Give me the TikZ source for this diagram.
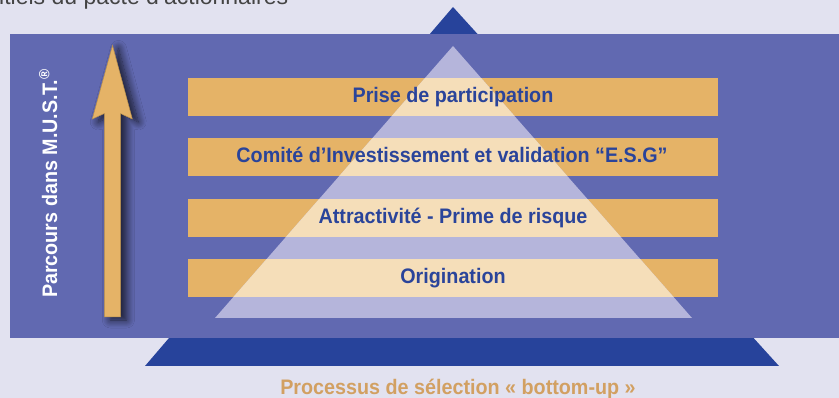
\documentclass[tikz,border=0pt]{standalone}
\usepackage{fontspec}
\setmainfont{Liberation Sans}
\newfontfamily\cond[FakeStretch=0.94]{Liberation Sans}
\usetikzlibrary{shadows.blur}
\definecolor{bgc}{HTML}{E2E2F0}
\definecolor{rectc}{HTML}{6169B1}
\definecolor{darkpyr}{HTML}{27439B}
\definecolor{lightpyr}{HTML}{B5B5DB}
\definecolor{barc}{HTML}{E5B367}
\definecolor{barlight}{HTML}{F5DEB9}
\definecolor{bartext}{HTML}{2A449A}
\definecolor{bottomtext}{HTML}{D2A062}
\definecolor{topgray}{HTML}{444444}
\definecolor{arrowedge}{HTML}{B8904E}
\tikzset{
  bartxt/.style={anchor=base, inner sep=0, text=bartext, font=\cond\bfseries\fontsize{21}{25}\selectfont},
}
\begin{document}
\begin{tikzpicture}[x=1pt,y=-1pt]
\useasboundingbox (0,0) rectangle (839,398);
\fill[bgc] (0,0) rectangle (839,398);
\node[anchor=base west, inner sep=0, text=topgray, font=\fontsize{23}{27}\selectfont] (toptext) at (-1,4.5) {itiels du pacte d’actionnaires};
% dark pyramid behind
\fill[darkpyr] (453,7) -- (779,366) -- (145,366) -- cycle;
% main panel
\fill[rectc] (10,34) rectangle (839,338);
% bars
\fill[barc] (187.5,78) rectangle (718,116);
\fill[barc] (187.5,138) rectangle (718,176);
\fill[barc] (187.5,199) rectangle (718,237);
\fill[barc] (187.5,259) rectangle (718,297);
% light pyramid
\coordinate (apex) at (453,46);
\coordinate (bl) at (215,318);
\coordinate (br) at (692,318);
\fill[lightpyr] (apex) -- (br) -- (bl) -- cycle;
\begin{scope}
  \clip (apex) -- (br) -- (bl) -- cycle;
  \fill[barlight] (187.5,78) rectangle (718,116);
  \fill[barlight] (187.5,138) rectangle (718,176);
  \fill[barlight] (187.5,199) rectangle (718,237);
  \fill[barlight] (187.5,259) rectangle (718,297);
\end{scope}
% bar texts
\node[bartxt] (t1) at (453,102.5) {Prise de participation};
\node[bartxt] (t2) at (452,162.5) {Comité d’Investissement et validation “E.S.G”};
\node[bartxt] (t3) at (453,223.5) {Attractivité - Prime de risque};
\node[bartxt] (t4) at (453,283.5) {Origination};
% arrow
\fill[barc, draw=arrowedge, line width=0.5pt,
  blur shadow={shadow xshift=6pt, shadow yshift=-3pt, shadow blur radius=8pt, shadow blur steps=12, shadow opacity=75}]
  (112.5,45.5) -- (132.3,119) -- (120.5,113.5) -- (120.5,317) -- (104.3,317) -- (104.3,113.5) -- (92.3,119) -- cycle;
% vertical label
\node[anchor=base, inner sep=0, rotate=90, text=white, font=\cond\bfseries\fontsize{21}{25}\selectfont] (vlabel) at (57,183.5) {Parcours dans M.U.S.T.\textsuperscript{®}};
% bottom label
\node[anchor=base, inner sep=0, text=bottomtext, font=\cond\bfseries\fontsize{21}{25}\selectfont] (btext) at (458,395) {Processus de sélection « bottom-up »};
\end{tikzpicture}
\end{document}
